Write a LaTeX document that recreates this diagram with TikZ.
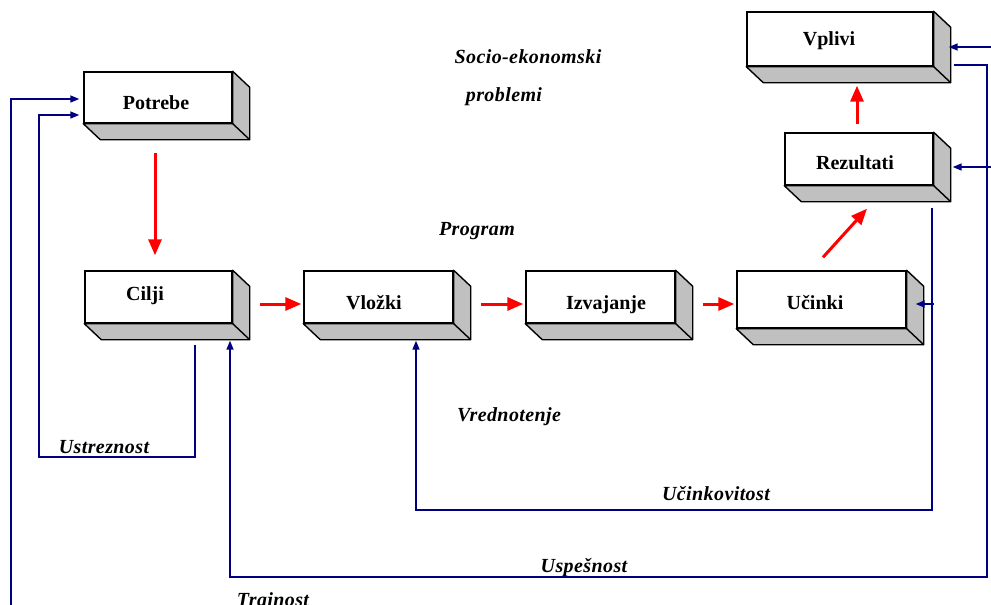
\documentclass[tikz,border=0pt]{standalone}
\usepackage{fontspec}
\setmainfont{Liberation Serif}
\usetikzlibrary{arrows.meta}
\definecolor{boxside}{RGB}{192,192,192}
\definecolor{loopblue}{RGB}{0,0,128}
\begin{document}
\begin{tikzpicture}
[x=1pt,y=-1pt,
  boxdecorate/.style={draw,line width=1.4pt,fill=white,inner sep=0pt},
  sidedecorate/.style={draw,line width=1.4pt,fill=boxside,line join=round},
  namedecorate/.style={font=\fontsize{20}{24}\selectfont\bfseries,inner sep=0pt,text height=13pt,text depth=0pt},
  labeldecorate/.style={font=\fontsize{20}{24}\selectfont\bfseries\itshape\addfontfeatures{LetterSpace=2},
    inner sep=0pt,text height=13pt,text depth=0pt},
  flowdecorate/.style={-{Triangle[length=16pt,width=13pt]},line width=3pt,red},
  loopdecorate/.style={-{Triangle[length=9pt,width=7pt]},line width=1.6pt,loopblue}]
\useasboundingbox (0,0) rectangle (991,605);
%% boxes with their depth
\foreach \boxname/\x/\y/\w/\h/\tx/\ty/\boxtext in {potrebe/158/97.5/148/51/156/103/Potrebe,
  cilji/158.5/297/147/52/145/294/Cilji, vlozki/378.5/297/149/52/374/303/Vložki,
  izvajanje/600.5/297/149/52/606/303/Izvajanje, ucinki/821.5/299.5/169/57/815/303/Učinki,
  rezultati/859/159/148/52/855/163/Rezultati, vplivi/840/39/186/54/829/39/Vplivi} {
  \node (\boxname) at (\x,\y) [boxdecorate,minimum width=\w pt,minimum height=\h pt] {};
  \draw[sidedecorate] (\boxname.north east) -- ++(17,16)
    -- ([xshift=17pt,yshift=-16pt]\boxname.south east)
    -- ([xshift=17pt,yshift=-16pt]\boxname.south west)
    -- (\boxname.south west) -- (\boxname.south east) -- cycle;
  \draw[line width=1.4pt] (\boxname.south east) -- ++(17,16);
  \node (\boxname-text) at (\tx,\ty) [namedecorate] {\boxtext};
}
%% free labels
\foreach \labelname/\x/\y/\labeltext in {socio/528/57/Socio-ekonomski,
  problemi/504/95/problemi, program/477/229/Program, vrednotenje/509/415/Vrednotenje,
  ustreznost/104/447/Ustreznost, ucinkovitost/716/494/Učinkovitost,
  uspesnost/584/566/Uspešnost, trajnost/273/600/Trajnost} {
  \node (\labelname) at (\x,\y) [labeldecorate] {\labeltext};
}
%% loose ends at the border
\coordinate (trajnost-foot) at (11,605);
\coordinate (vplivi-in) at (991,47);
\coordinate (rezultati-in) at (991,167);
%% red flow
\draw[flowdecorate] ([xshift=-3pt,yshift=-29pt]potrebe.south) -- ([xshift=-3.5pt,yshift=15pt]cilji.north);
\path
\foreach \startnode/\endnode/\dy in {cilji/vlozki/-7, vlozki/izvajanje/-7, izvajanje/ucinki/-4.5} {
  ([xshift=27pt,yshift=-7pt]\startnode.east) edge[flowdecorate] ([xshift=-2pt,yshift=\dy pt]\endnode.west)
};
\draw[flowdecorate] ([xshift=1.5pt,yshift=13pt]ucinki.north) -- ([xshift=8pt,yshift=-23pt]rezultati.south);
\draw[flowdecorate] ([xshift=-2pt,yshift=8pt]rezultati.north) -- ([xshift=17pt,yshift=-19pt]vplivi.south);
%% blue feedback loops
\draw[loopdecorate,shorten >=4pt] (trajnost-foot) |- ([yshift=-1.5pt]potrebe.west);
\draw[loopdecorate,shorten >=4pt] ([xshift=36.5pt,yshift=-21pt]cilji.south) -- ++(0,112) -- ++(-156,0)
  |- ([yshift=-17.5pt]potrebe.west);
\draw[loopdecorate] ([xshift=-2pt,yshift=-22pt]rezultati.south east) -- ++(0,302)
  -| ([xshift=37.5pt,yshift=-17pt]vlozki.south);
\draw[loopdecorate] ([xshift=27pt,yshift=-4.5pt]ucinki.east) -- ([xshift=9pt,yshift=-4.5pt]ucinki.east);
\draw[loopdecorate] ([xshift=20pt,yshift=2pt]vplivi.south east) -- ++(33,0) -- ++(0,512)
  -| ([xshift=71.5pt,yshift=-17pt]cilji.south);
\draw[loopdecorate] (vplivi-in) -- ([xshift=15pt,yshift=-8pt]vplivi.east);
\draw[loopdecorate] (rezultati-in) -- ([xshift=19pt,yshift=-8pt]rezultati.east);
\end{tikzpicture}
\end{document}
